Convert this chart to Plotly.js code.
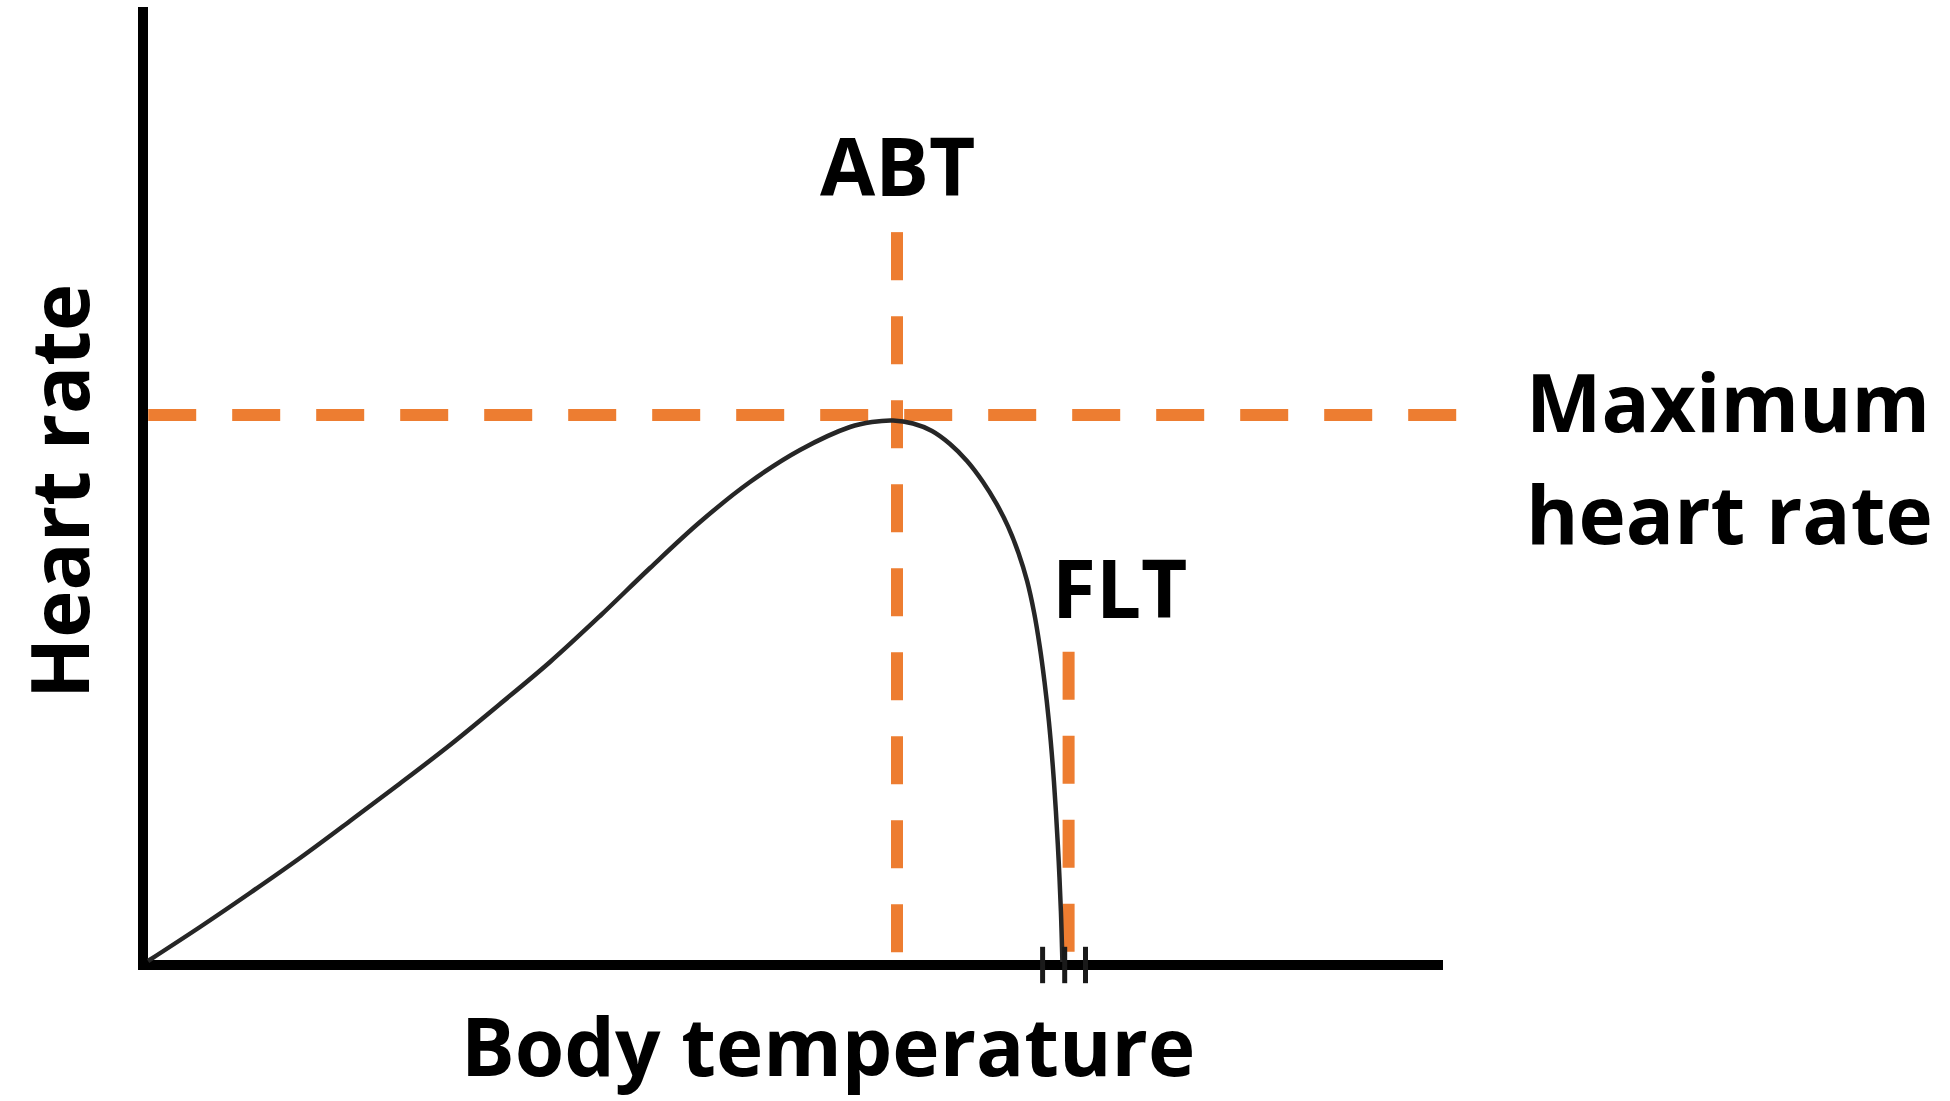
<!DOCTYPE html>
<html><head><meta charset="utf-8">
<script src="https://cdn.plot.ly/plotly-3.0.1.min.js"></script>
<style>html,body{margin:0;padding:0;background:#fff;overflow:hidden}#chart{width:1950px;height:1101px}</style>
</head><body><div id="chart"></div>
<script>
// Curve (arbitrary units)
const curveTemp = [0.385, 4.385, 8.231, 12.077, 15.923, 19.769, 23.615, 27.462, 31.308, 35.154, 39.0, 42.846, 46.692, 50.538, 54.385, 56.077, 57.692, 59.231, 60.692, 62.077, 63.385, 64.615, 65.638, 66.546, 67.338, 68.015, 68.546, 68.977, 69.346, 69.685, 69.985, 70.223, 70.438, 70.608, 70.723];
const curveHeartRate = [0.418, 3.967, 7.516, 11.169, 15.031, 18.946, 22.965, 27.244, 31.628, 36.43, 41.441, 46.242, 50.418, 53.758, 56.159, 56.681, 56.837, 56.524, 55.741, 54.384, 52.61, 50.418, 48.184, 45.762, 43.038, 40.042, 36.785, 33.288, 29.562, 25.407, 20.731, 16.044, 10.835, 5.616, 0.313];
// Reference lines
const maxHeartRate = 57.4;
const abtTemp = 58.0;
const fltTemp = 71.2;
const abtLineTop = 76.5;
const fltLineTop = 32.7;
const refLineBottom = 1.25;
const maxLineStart = 0.4;
const maxLineEnd = 101.1;
// Axis extents and break ticks
const axisEndX = 100;
const axisEndY = 100;
const breakTicks = [69.2, 70.9, 72.5];
const breakTickHalf = 1.9;
// Labels
const labelABT = 'ABT';
const labelFLT = 'FLT';
const labelMax1 = 'Maximum';
const labelMax2 = 'heart rate';
const labelX = 'Body temperature';
const labelY = 'Heart rate';

const orange = '#ED7D31';
const dash = '48px,36px';
const fontBase = {family: '"Open Sans", Lato, sans-serif', size: 80, weight: 700, color: '#000'};

const tx = [], ty = [];
breakTicks.forEach(t => { tx.push(t, t, null); ty.push(-breakTickHalf, breakTickHalf, null); });

const traces = [
  {x: [maxLineStart, maxLineEnd], y: [maxHeartRate, maxHeartRate], mode: 'lines',
   line: {color: orange, width: 12, dash: dash}, hoverinfo: 'skip'},
  {x: [abtTemp, abtTemp], y: [abtLineTop, refLineBottom], mode: 'lines',
   line: {color: orange, width: 12, dash: dash}, hoverinfo: 'skip'},
  {x: [fltTemp, fltTemp], y: [fltLineTop, refLineBottom], mode: 'lines',
   line: {color: orange, width: 12, dash: dash}, hoverinfo: 'skip'},
  {x: curveTemp, y: curveHeartRate, mode: 'lines',
   line: {color: '#262626', width: 4.5, shape: 'spline', smoothing: 1, simplify: false}, hoverinfo: 'skip'},
  {x: tx, y: ty, mode: 'lines', line: {color: '#1a1a1a', width: 5}, hoverinfo: 'skip'}
];

const L = 100, R = 1480, T = 0, B = 1000;
const pxPerX = 13, pxPerY = 9.58, x0px = 143, y0px = 965;
const xr = [(L - x0px) / pxPerX, (R - x0px) / pxPerX];
const yr = [(y0px - B) / pxPerY, (y0px - T) / pxPerY];

const hiddenAxis = {showgrid: false, zeroline: false, showline: false, showticklabels: false, ticks: '', fixedrange: true};

const layout = {
  width: 1950, height: 1101,
  margin: {l: L, r: 1950 - R, t: T, b: 1101 - B, pad: 0},
  paper_bgcolor: '#fff', plot_bgcolor: '#fff',
  showlegend: false, hovermode: false,
  xaxis: Object.assign({range: xr}, hiddenAxis),
  yaxis: Object.assign({range: yr}, hiddenAxis),
  shapes: [{type: 'path', xref: 'x', yref: 'y',
    path: 'M 0,' + axisEndY + ' L 0,0 L ' + axisEndX + ',0',
    line: {color: '#000', width: 10}, layer: 'below'}],
  annotations: [
    {text: labelABT, xref: 'x', yref: 'y', x: abtTemp, y: 83.51, xanchor: 'center', yanchor: 'middle', showarrow: false, font: fontBase},
    {text: labelFLT, xref: 'x', yref: 'y', x: 75.15, y: 39.56, xanchor: 'center', yanchor: 'middle', showarrow: false, font: fontBase},
    {text: labelMax1, xref: 'paper', yref: 'paper', x: 1.0319, y: 0.600, xanchor: 'left', yanchor: 'middle', showarrow: false, font: fontBase},
    {text: labelMax2, xref: 'paper', yref: 'paper', x: 1.0319, y: 0.488, xanchor: 'left', yanchor: 'middle', showarrow: false, font: fontBase},
    {text: labelX, xref: 'paper', yref: 'paper', x: 0.5275, y: -0.044, xanchor: 'center', yanchor: 'middle', showarrow: false, font: fontBase},
    {text: labelY, xref: 'paper', yref: 'paper', x: -0.03116, y: 0.509, xanchor: 'center', yanchor: 'middle', textangle: -90, showarrow: false, font: fontBase}
  ]
};

Plotly.newPlot('chart', traces, layout, {staticPlot: true, displayModeBar: false});
</script>
</body></html>
